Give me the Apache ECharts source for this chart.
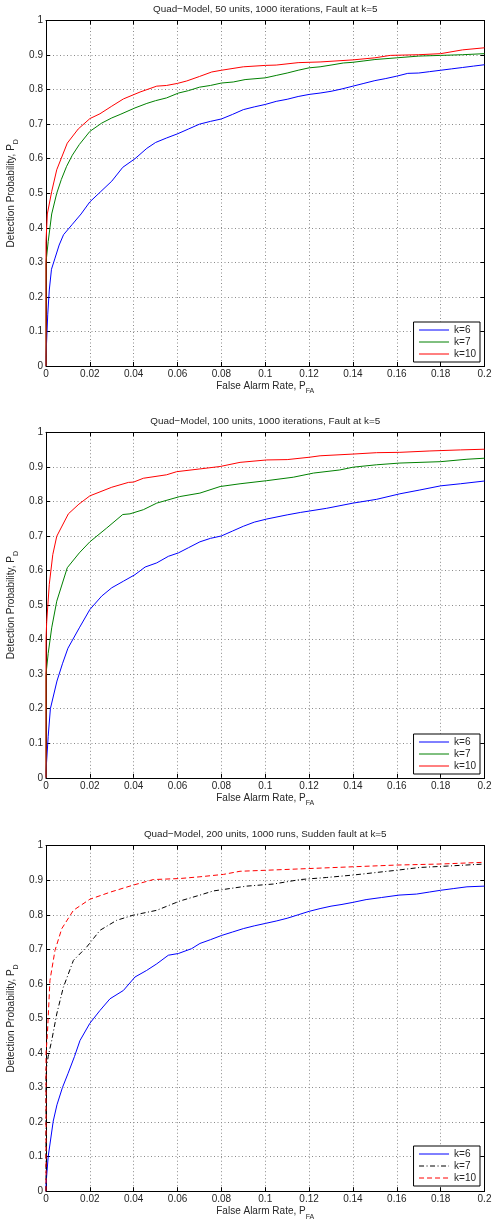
<!DOCTYPE html>
<html><head><meta charset="utf-8">
<script src="https://cdn.jsdelivr.net/npm/echarts@6/dist/echarts.min.js"></script>
<style>html,body{margin:0;padding:0;background:#fff}#c{width:494px;height:1222px}</style>
</head><body><div id="c"></div>
<script>
// ---- Data ----
const titles = [
  'Quad\u2212Model, 50 units, 1000 iterations, Fault at k=5',
  'Quad\u2212Model, 100 units, 1000 iterations, Fault at k=5',
  'Quad\u2212Model, 200 units, 1000 runs, Sudden fault at k=5'
];
const seriesNames = ['k=6', 'k=7', 'k=10'];
const xTicks = [0, 0.02, 0.04, 0.06, 0.08, 0.1, 0.12, 0.14, 0.16, 0.18, 0.2];
const yTicks = [0, 0.1, 0.2, 0.3, 0.4, 0.5, 0.6, 0.7, 0.8, 0.9, 1];

const p1K6 = [[0,0],[0,0.03],[0.0008,0.15],[0.0015,0.22],[0.0025,0.28],[0.004,0.31],[0.006,0.35],[0.008,0.38],[0.012,0.41],[0.016,0.44],[0.02,0.475],[0.025,0.505],[0.03,0.535],[0.035,0.575],[0.0406,0.6],[0.046,0.63],[0.05,0.647],[0.055,0.66],[0.06,0.672],[0.065,0.686],[0.07,0.7],[0.075,0.708],[0.08,0.715],[0.085,0.728],[0.09,0.742],[0.095,0.75],[0.1,0.757],[0.105,0.766],[0.11,0.772],[0.115,0.78],[0.12,0.786],[0.125,0.79],[0.13,0.795],[0.135,0.802],[0.14,0.81],[0.145,0.818],[0.15,0.826],[0.155,0.832],[0.16,0.839],[0.165,0.847],[0.17,0.848],[0.175,0.852],[0.18,0.856],[0.185,0.86],[0.19,0.864],[0.195,0.868],[0.2,0.872]];
const p1K7 = [[0,0],[0,0.3],[0.001,0.36],[0.0026,0.44],[0.0049,0.5],[0.007,0.54],[0.0094,0.578],[0.012,0.61],[0.0152,0.641],[0.02,0.679],[0.0254,0.703],[0.03,0.718],[0.0338,0.728],[0.0406,0.747],[0.046,0.76],[0.05,0.768],[0.055,0.776],[0.0604,0.79],[0.065,0.797],[0.07,0.807],[0.075,0.812],[0.08,0.819],[0.0854,0.822],[0.0908,0.829],[0.1,0.834],[0.105,0.841],[0.11,0.848],[0.115,0.856],[0.12,0.863],[0.125,0.866],[0.13,0.871],[0.1356,0.877],[0.14,0.879],[0.145,0.883],[0.15,0.887],[0.16,0.892],[0.17,0.897],[0.18,0.899],[0.19,0.901],[0.2,0.904]];
const p1K10 = [[0,0],[0,0.36],[0.0006,0.44],[0.0026,0.505],[0.0049,0.568],[0.0097,0.645],[0.0147,0.686],[0.02,0.716],[0.0246,0.73],[0.03,0.752],[0.0353,0.773],[0.0429,0.793],[0.0505,0.81],[0.055,0.812],[0.06,0.818],[0.0642,0.825],[0.07,0.838],[0.0756,0.851],[0.08,0.856],[0.09,0.866],[0.1,0.87],[0.105,0.871],[0.115,0.878],[0.125,0.88],[0.14,0.886],[0.15,0.892],[0.157,0.899],[0.17,0.901],[0.18,0.904],[0.19,0.915],[0.2,0.921]];

const p2K6 = [[0,0],[0,0.02],[0.001,0.12],[0.002,0.2],[0.005,0.28],[0.0075,0.33],[0.01,0.375],[0.0152,0.434],[0.02,0.487],[0.0254,0.526],[0.03,0.55],[0.0353,0.569],[0.0406,0.588],[0.0452,0.61],[0.0505,0.622],[0.0558,0.641],[0.0604,0.651],[0.065,0.666],[0.0702,0.683],[0.075,0.693],[0.08,0.7],[0.085,0.714],[0.09,0.728],[0.095,0.74],[0.1007,0.749],[0.11,0.761],[0.116,0.768],[0.128,0.78],[0.14,0.795],[0.1508,0.806],[0.1614,0.822],[0.1705,0.833],[0.18,0.845],[0.189,0.851],[0.2,0.859]];
const p2K7 = [[0,0],[0,0.3],[0.001,0.36],[0.0026,0.434],[0.0049,0.511],[0.0097,0.608],[0.0152,0.651],[0.02,0.683],[0.0277,0.723],[0.035,0.762],[0.0383,0.764],[0.0444,0.776],[0.0505,0.795],[0.061,0.814],[0.0702,0.824],[0.0794,0.843],[0.0885,0.851],[0.1007,0.86],[0.1128,0.87],[0.122,0.882],[0.134,0.891],[0.14,0.899],[0.1508,0.906],[0.1614,0.911],[0.18,0.915],[0.192,0.922],[0.2,0.925]];
const p2K10 = [[0,0],[0,0.4],[0.0003,0.45],[0.0015,0.56],[0.0031,0.646],[0.0049,0.699],[0.0102,0.764],[0.015,0.792],[0.02,0.816],[0.03,0.841],[0.0376,0.855],[0.04,0.856],[0.0444,0.867],[0.055,0.877],[0.0596,0.886],[0.0702,0.894],[0.0794,0.901],[0.0885,0.913],[0.1007,0.92],[0.11,0.921],[0.1204,0.928],[0.125,0.932],[0.14,0.937],[0.1508,0.941],[0.1614,0.942],[0.1751,0.946],[0.189,0.949],[0.2,0.951]];

const p3K6 = [[0,0],[0,0.02],[0.001,0.1],[0.0033,0.203],[0.005,0.25],[0.0075,0.3],[0.01,0.34],[0.013,0.39],[0.0155,0.436],[0.02,0.486],[0.0246,0.523],[0.0292,0.557],[0.0353,0.581],[0.0406,0.62],[0.0459,0.639],[0.0505,0.658],[0.0558,0.683],[0.0604,0.688],[0.0664,0.702],[0.0702,0.717],[0.075,0.728],[0.08,0.74],[0.085,0.75],[0.09,0.76],[0.095,0.768],[0.1,0.775],[0.105,0.782],[0.11,0.79],[0.115,0.8],[0.12,0.81],[0.125,0.818],[0.13,0.825],[0.135,0.83],[0.14,0.836],[0.146,0.844],[0.153,0.85],[0.161,0.857],[0.169,0.86],[0.175,0.866],[0.18,0.871],[0.186,0.876],[0.192,0.881],[0.2,0.883]];
const p3K7 = [[0,0],[0,0.35],[0.001,0.39],[0.0026,0.436],[0.0049,0.513],[0.0079,0.59],[0.0125,0.668],[0.0186,0.707],[0.0246,0.755],[0.0322,0.784],[0.0398,0.799],[0.0505,0.813],[0.0611,0.84],[0.0702,0.857],[0.0763,0.869],[0.0915,0.883],[0.1037,0.889],[0.1159,0.902],[0.128,0.908],[0.14,0.915],[0.16,0.929],[0.1705,0.937],[0.183,0.941],[0.2,0.947]];
const p3K10 = [[0,0],[0,0.4],[0.0006,0.45],[0.0018,0.61],[0.0041,0.697],[0.0072,0.76],[0.0125,0.813],[0.02,0.845],[0.0295,0.866],[0.0398,0.886],[0.049,0.902],[0.0611,0.905],[0.0702,0.91],[0.081,0.917],[0.0885,0.926],[0.1007,0.929],[0.1204,0.934],[0.14,0.939],[0.16,0.944],[0.18,0.947],[0.2,0.952]];

// ---- Styling / layout ----
const FONT = '"Liberation Sans", Arial, Helvetica, sans-serif';
const TXT = '#262626';
const gridTops = [20.5, 432.3, 845.7];
const gridH = 345.5;
const gridLeft = 46, gridRight = 9.5;
const legendTops = [322, 734, 1146];
const plotData = [[p1K6, p1K7, p1K10], [p2K6, p2K7, p2K10], [p3K6, p3K7, p3K10]];
const plotStyles = [
  [{c:'#0000ff', t:'solid'}, {c:'#008000', t:'solid'}, {c:'#ff0000', t:'solid'}],
  [{c:'#0000ff', t:'solid'}, {c:'#008000', t:'solid'}, {c:'#ff0000', t:'solid'}],
  [{c:'#0000ff', t:'solid'}, {c:'#000000', t:[5,2.5,1,2.5]}, {c:'#ff0000', t:[5,3]}]
];
const fmt = v => String(+v.toFixed(4));

const option = {
  animation: false,
  backgroundColor: '#fff',
  textStyle: { fontFamily: FONT },
  title: [], grid: [], xAxis: [], yAxis: [], series: [], legend: []
};

for (let p = 0; p < 3; p++) {
  const suffix = ' '.repeat(p);
  option.title.push({
    text: titles[p], left: (gridLeft + 494 - gridRight) / 2, textAlign: 'center',
    top: gridTops[p] - 16.5, padding: 0,
    textStyle: { fontSize: 9.9, fontWeight: 'normal', color: TXT, fontFamily: FONT }
  });
  option.grid.push({ left: gridLeft, right: gridRight, top: gridTops[p], height: gridH,
    containLabel: false, outerBoundsMode: 'none' });
  // bottom x axis
  option.xAxis.push({
    type: 'value', gridIndex: p, min: xTicks[0], max: xTicks[xTicks.length - 1], interval: 0.02,
    position: 'bottom',
    name: '{a|False Alarm Rate, P}{s|FA}', nameLocation: 'middle', nameGap: 15, nameMoveOverlap: false,
    nameTextStyle: { rich: {
      a: { fontSize: 10, color: TXT, fontFamily: FONT, verticalAlign: 'top', lineHeight: 14 },
      s: { fontSize: 7, color: TXT, fontFamily: FONT, verticalAlign: 'bottom', lineHeight: 14 }
    } },
    axisLine: { show: true, onZero: false, lineStyle: { color: '#000', width: 1 } },
    axisTick: { show: true, inside: true, length: 4, lineStyle: { color: '#000' } },
    axisLabel: { show: true, fontSize: 10, color: TXT, margin: 3, formatter: fmt, fontFamily: FONT },
    splitLine: { show: true, lineStyle: { color: '#8a8a8a', type: [1, 2.5], width: 1 } }
  });
  // top x axis (ticks only)
  option.xAxis.push({
    type: 'value', gridIndex: p, min: xTicks[0], max: xTicks[xTicks.length - 1], interval: 0.02,
    position: 'top',
    axisLine: { show: true, onZero: false, lineStyle: { color: '#000', width: 1 } },
    axisTick: { show: true, inside: true, length: 4, lineStyle: { color: '#000' } },
    axisLabel: { show: false }, splitLine: { show: false }
  });
  option.yAxis.push({
    type: 'value', gridIndex: p, min: yTicks[0], max: yTicks[yTicks.length - 1], interval: 0.1,
    position: 'left',
    name: '{a|Detection Probability, P}{s|D}', nameLocation: 'middle', nameGap: 26, nameRotate: 90,
    nameMoveOverlap: false,
    nameTextStyle: { rich: {
      a: { fontSize: 10, color: TXT, fontFamily: FONT, verticalAlign: 'top', lineHeight: 14 },
      s: { fontSize: 7, color: TXT, fontFamily: FONT, verticalAlign: 'bottom', lineHeight: 14 }
    } },
    axisLine: { show: true, onZero: false, lineStyle: { color: '#000', width: 1 } },
    axisTick: { show: true, inside: true, length: 4, lineStyle: { color: '#000' } },
    axisLabel: { show: true, fontSize: 10, color: TXT, margin: 3, formatter: fmt, fontFamily: FONT },
    splitLine: { show: true, lineStyle: { color: '#8a8a8a', type: [1, 2.5], width: 1 } }
  });
  option.yAxis.push({
    type: 'value', gridIndex: p, min: yTicks[0], max: yTicks[yTicks.length - 1], interval: 0.1,
    position: 'right',
    axisLine: { show: true, onZero: false, lineStyle: { color: '#000', width: 1 } },
    axisTick: { show: true, inside: true, length: 4, lineStyle: { color: '#000' } },
    axisLabel: { show: false }, splitLine: { show: false }
  });
  const names = [];
  for (let s = 0; s < 3; s++) {
    const nm = seriesNames[s] + suffix;
    names.push(nm);
    option.series.push({
      type: 'line', name: nm, xAxisIndex: p * 2, yAxisIndex: p * 2,
      data: plotData[p][s], showSymbol: false, symbol: 'none', smooth: false,
      lineStyle: { color: plotStyles[p][s].c, width: 1, type: plotStyles[p][s].t },
      itemStyle: { color: plotStyles[p][s].c },
      emphasis: { disabled: true }, z: 3 + s
    });
  }
  option.legend.push({
    data: names, orient: 'vertical', right: 14, top: legendTops[p],
    itemWidth: 30, itemHeight: 10, itemGap: 2, padding: [3, 4, 3, 5],
    backgroundColor: '#fff', borderColor: '#000', borderWidth: 1, borderRadius: 0,
    itemStyle: { opacity: 0, borderWidth: 0 },
    lineStyle: { width: 1 },
    formatter: n => n.replace(/\s+$/, ''),
    textStyle: { fontSize: 10, color: TXT, fontFamily: FONT, lineHeight: 10 },
    selectedMode: false
  });
}

const chart = echarts.init(document.getElementById('c'), null, { renderer: 'canvas' });
chart.setOption(option);
</script>
</body></html>
